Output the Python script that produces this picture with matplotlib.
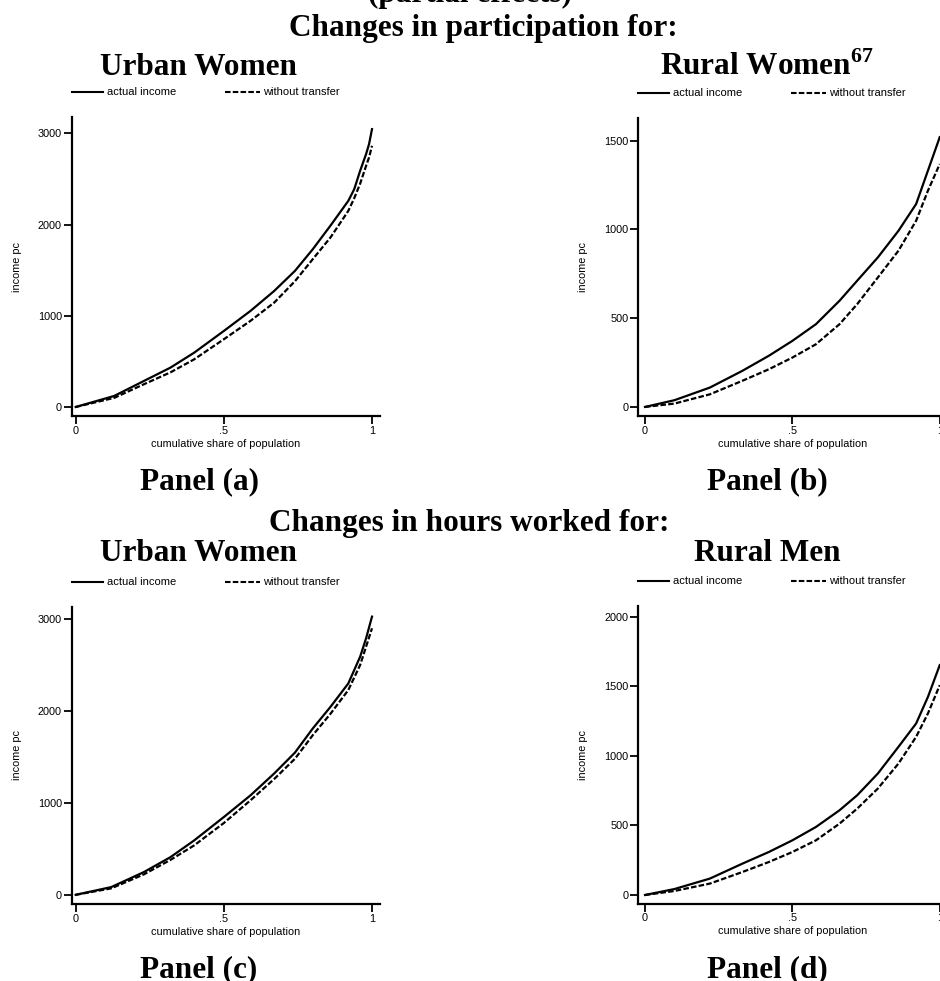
import matplotlib
matplotlib.use("Agg")
import matplotlib.pyplot as plt
from matplotlib.lines import Line2D

W, H = 940, 981

# income per capita by cumulative population share
share_a = [0, .13, .23, .32, .40, .50, .59, .67, .74, .80, .86, .92, .94, .96, .98, .99, 1.0]
actual_a = [0, 121, 285, 432, 596, 834, 1054, 1273, 1493, 1730, 1990, 2261, 2389, 2591, 2774, 2883, 3048]
notransf_a = [0, 100, 249, 380, 523, 743, 945, 1145, 1380, 1621, 1860, 2151, 2290, 2450, 2645, 2737, 2865]

share_b = [0, .10, .22, .33, .42, .50, .58, .66, .72, .79, .86, .92, .96, 1.0]
actual_b = [0, 38, 109, 203, 288, 372, 466, 598, 711, 842, 992, 1143, 1331, 1519]
notransf_b = [0, 19, 71, 147, 212, 278, 353, 466, 579, 729, 880, 1049, 1218, 1368]

share_c = [0, .12, .23, .32, .40, .50, .59, .67, .74, .80, .86, .92, .96, .98, 1.0]
actual_c = [0, 84, 247, 410, 592, 846, 1082, 1320, 1547, 1809, 2045, 2299, 2590, 2790, 3026]
notransf_c = [0, 70, 222, 380, 538, 781, 1028, 1260, 1480, 1736, 1970, 2227, 2500, 2699, 2899]

share_d = [0, .10, .22, .33, .42, .50, .58, .66, .72, .79, .86, .92, .96, 1.0]
actual_d = [0, 43, 118, 225, 309, 393, 489, 609, 717, 873, 1065, 1233, 1424, 1652]
notransf_d = [0, 29, 82, 165, 237, 309, 393, 513, 621, 765, 945, 1137, 1305, 1508]

yticks_a = [0, 1000, 2000, 3000]
yticks_b = [0, 500, 1000, 1500]
yticks_c = [0, 1000, 2000, 3000]
yticks_d = [0, 500, 1000, 1500, 2000]
xticks = [0, .5, 1]
xticklabels = ["0", ".5", "1"]

SERIF = "Liberation Serif"
SANS = "Liberation Sans"
plt.rcParams["lines.scale_dashes"] = False
plt.rcParams["mathtext.fontset"] = "custom"
plt.rcParams["mathtext.bf"] = "Liberation Serif:bold"
plt.rcParams["mathtext.rm"] = "Liberation Serif:bold"

fig = plt.figure(figsize=(W / 100, H / 100), dpi=100)
fig.patch.set_facecolor("white")


def fx(px):
    return px / W


def fy(py):
    return 1 - py / H


def heading(x, y, s, size=22.5):
    fig.text(fx(x), fy(y), s, ha="center", va="baseline", fontsize=size,
             fontweight="bold", family=SERIF)


def panel(box, xlim, ylim, share, actual, notransf, yticks):
    left, top, right, bottom = box
    ax = fig.add_axes([fx(left), fy(bottom), fx(right - left), (bottom - top) / H])
    ax.plot(share, actual, color="black", lw=1.6, solid_joinstyle="round")
    ax.plot(share, notransf, color="black", lw=1.6, dashes=(4.0, 1.6))
    ax.set_xlim(*xlim)
    ax.set_ylim(*ylim)
    for s in ["top", "right"]:
        ax.spines[s].set_visible(False)
    for s in ["left", "bottom"]:
        ax.spines[s].set_linewidth(1.6)
    ax.set_xticks(xticks)
    ax.set_xticklabels(xticklabels)
    ax.set_yticks(yticks)
    ax.set_yticklabels([str(v) for v in yticks])
    ax.tick_params(direction="out", length=6, width=1.3, pad=1, labelsize=7.8)
    for lab in ax.get_xticklabels() + ax.get_yticklabels():
        lab.set_family(SANS)
    ax.set_xlabel("cumulative share of population", fontsize=7.8, family=SANS)
    ax.set_ylabel("income pc", fontsize=7.8, family=SANS)
    ax.xaxis.set_label_coords(0.5, -23 / (bottom - top))
    ax.yaxis.set_label_coords(-55 / (right - left), 0.5)
    ax.xaxis.label.set_va("top")
    ax.yaxis.label.set_va("center")

    # legend row above the plot
    ly = fy(top - 25)
    fig.add_artist(Line2D([fx(left), fx(left + 31)], [ly, ly], color="black", lw=1.5))
    fig.text(fx(left + 35), ly, "actual income", fontsize=8, family=SANS, va="center")
    fig.add_artist(Line2D([fx(left + 153), fx(left + 188)], [ly, ly], color="black",
                          lw=1.5, dashes=(4.0, 1.6)))
    fig.text(fx(left + 191), ly, "without transfer", fontsize=8, family=SANS, va="center")
    return ax


panel((71.7, 117, 380, 416), (-0.0135, 1.027), (-99, 3181),
      share_a, actual_a, notransf_a, yticks_a)
panel((638.3, 118, 947.7, 416), (-0.0227, 1.027), (-51, 1627),
      share_b, actual_b, notransf_b, yticks_b)
panel((71.7, 606.7, 380, 904), (-0.0135, 1.027), (-100, 3134),
      share_c, actual_c, notransf_c, yticks_c)
panel((638.3, 606, 947.7, 903.5), (-0.0227, 1.027), (-61, 2077),
      share_d, actual_d, notransf_d, yticks_d)

heading(470, 2, "(partial effects)")
heading(483, 36, "Changes in participation for:")
heading(198.5, 75, "Urban Women")
heading(767, 75, r"Rural Women$^{\mathbf{67}}$")
heading(200, 489, "Panel (a)")
heading(767.5, 489, "Panel (b)")
heading(469, 531, "Changes in hours worked for:")
heading(198.5, 561, "Urban Women")
heading(767, 561, "Rural Men")
heading(199, 977, "Panel (c)")
heading(767.5, 977, "Panel (d)")

fig.savefig("out.png", dpi=100, facecolor="white")
